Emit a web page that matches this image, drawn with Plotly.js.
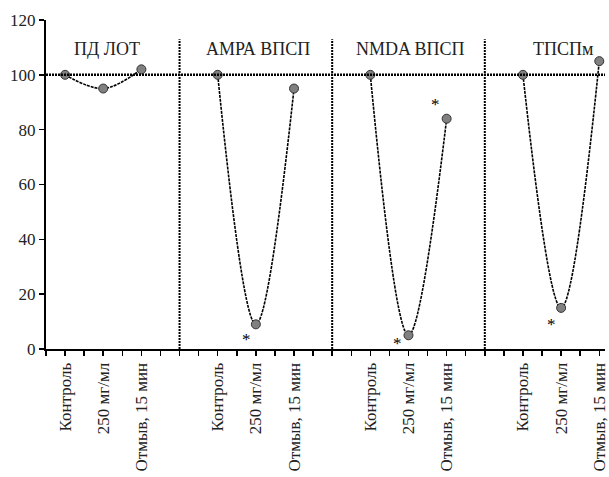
<!DOCTYPE html>
<html><head><meta charset="utf-8">
<script src="https://cdn.plot.ly/plotly-3.0.1.min.js"></script>
<style>body{margin:0;padding:0;background:#fff}#chart{width:609px;height:477px}</style>
</head><body><div id="chart"></div>
<script>
const panels = ["ПД ЛОТ", "АМРА ВПСП", "NMDA ВПСП", "ТПСПм"];
const categories = ["Контроль", "250 мг/мл", "Отмыв, 15 мин"];
const values = [
  [100, 95, 102],
  [100, 9, 95],
  [100, 5, 84],
  [100, 15, 105]
];
// asterisk marks: [panel index, category position (fractional), value]
const starPanel = [1, 2, 2, 3];
const starPos = [0.75, 0.7, 1.7, 0.75];
const starVal = [3.5, 2, 89, 9];
const baseline = 100;
const yTicks = [0, 20, 40, 60, 80, 100, 120];

const FONT = "Times New Roman, Liberation Serif, DejaVu Serif, serif";
const step = 8;      // x units per panel
const catStep = 2;   // x units per category
const x0 = 1;
const traces = [];
const tickvals = [], ticktext = [];
for (let i = 0; i <= 29; i++) { tickvals.push(i); ticktext.push(""); }
panels.forEach((p, pi) => {
  const xs = categories.map((c, ci) => x0 + pi * step + ci * catStep);
  xs.forEach((x, ci) => { ticktext[x] = categories[ci]; });
  traces.push({
    x: xs, y: values[pi], type: "scatter", mode: "lines+markers",
    line: {shape: "spline", smoothing: 1.0, color: "#000", width: 1.6, dash: "3px,1px"},
    marker: {size: 9, color: "#808080", line: {color: "#333", width: 1}},
    hoverinfo: "skip", showlegend: false, cliponaxis: false
  });
});
const shapes = [];
shapes.push({type: "line", xref: "paper", yref: "y", x0: 0, x1: 1, y0: baseline, y1: baseline,
  line: {color: "#000", width: 2.5, dash: "2px,1px"}});
for (let pi = 1; pi < panels.length; pi++) {
  const xd = pi * step - 1;
  shapes.push({type: "line", xref: "x", yref: "y", x0: xd, x1: xd, y0: 0, y1: 113,
    line: {color: "#000", width: 2, dash: "2px,1px"}});
}
const annotations = panels.map((p, pi) => ({
  x: x0 + pi * step + catStep + (pi === 0 ? 0.2 : 0.1), y: 109.5, xref: "x", yref: "y",
  text: p, showarrow: false, font: {family: FONT, size: 18, color: "#222"}
}));
starPanel.forEach((pi, k) => {
  annotations.push({x: x0 + pi * step + starPos[k] * catStep, y: starVal[k], xref: "x", yref: "y",
    text: "*", showarrow: false, font: {family: FONT, size: 17, color: "#000"}});
});
const layout = {
  width: 609, height: 477,
  margin: {l: 46, r: 4, t: 20, b: 128},
  paper_bgcolor: "#fff", plot_bgcolor: "#fff",
  font: {family: FONT, color: "#222"},
  xaxis: {range: [0, 29.3], tickmode: "array", tickvals: tickvals, ticktext: ticktext,
    tickangle: -90, ticks: "outside", ticklen: 5, tickwidth: 1.5, tickcolor: "#000",
    showline: true, linecolor: "#000", linewidth: 2, showgrid: false, zeroline: false,
    tickfont: {family: FONT, size: 17, color: "#222"}, fixedrange: true},
  yaxis: {range: [0, 120], tickmode: "array", tickvals: yTicks, ticks: "outside", ticklen: 5,
    tickwidth: 1.5, tickcolor: "#000", showline: true, linecolor: "#000", linewidth: 2,
    showgrid: false, zeroline: false,
    tickfont: {family: FONT, size: 17, color: "#222"}, fixedrange: true},
  shapes: shapes, annotations: annotations
};
Plotly.newPlot("chart", traces, layout, {displayModeBar: false, staticPlot: true});
</script></body></html>
